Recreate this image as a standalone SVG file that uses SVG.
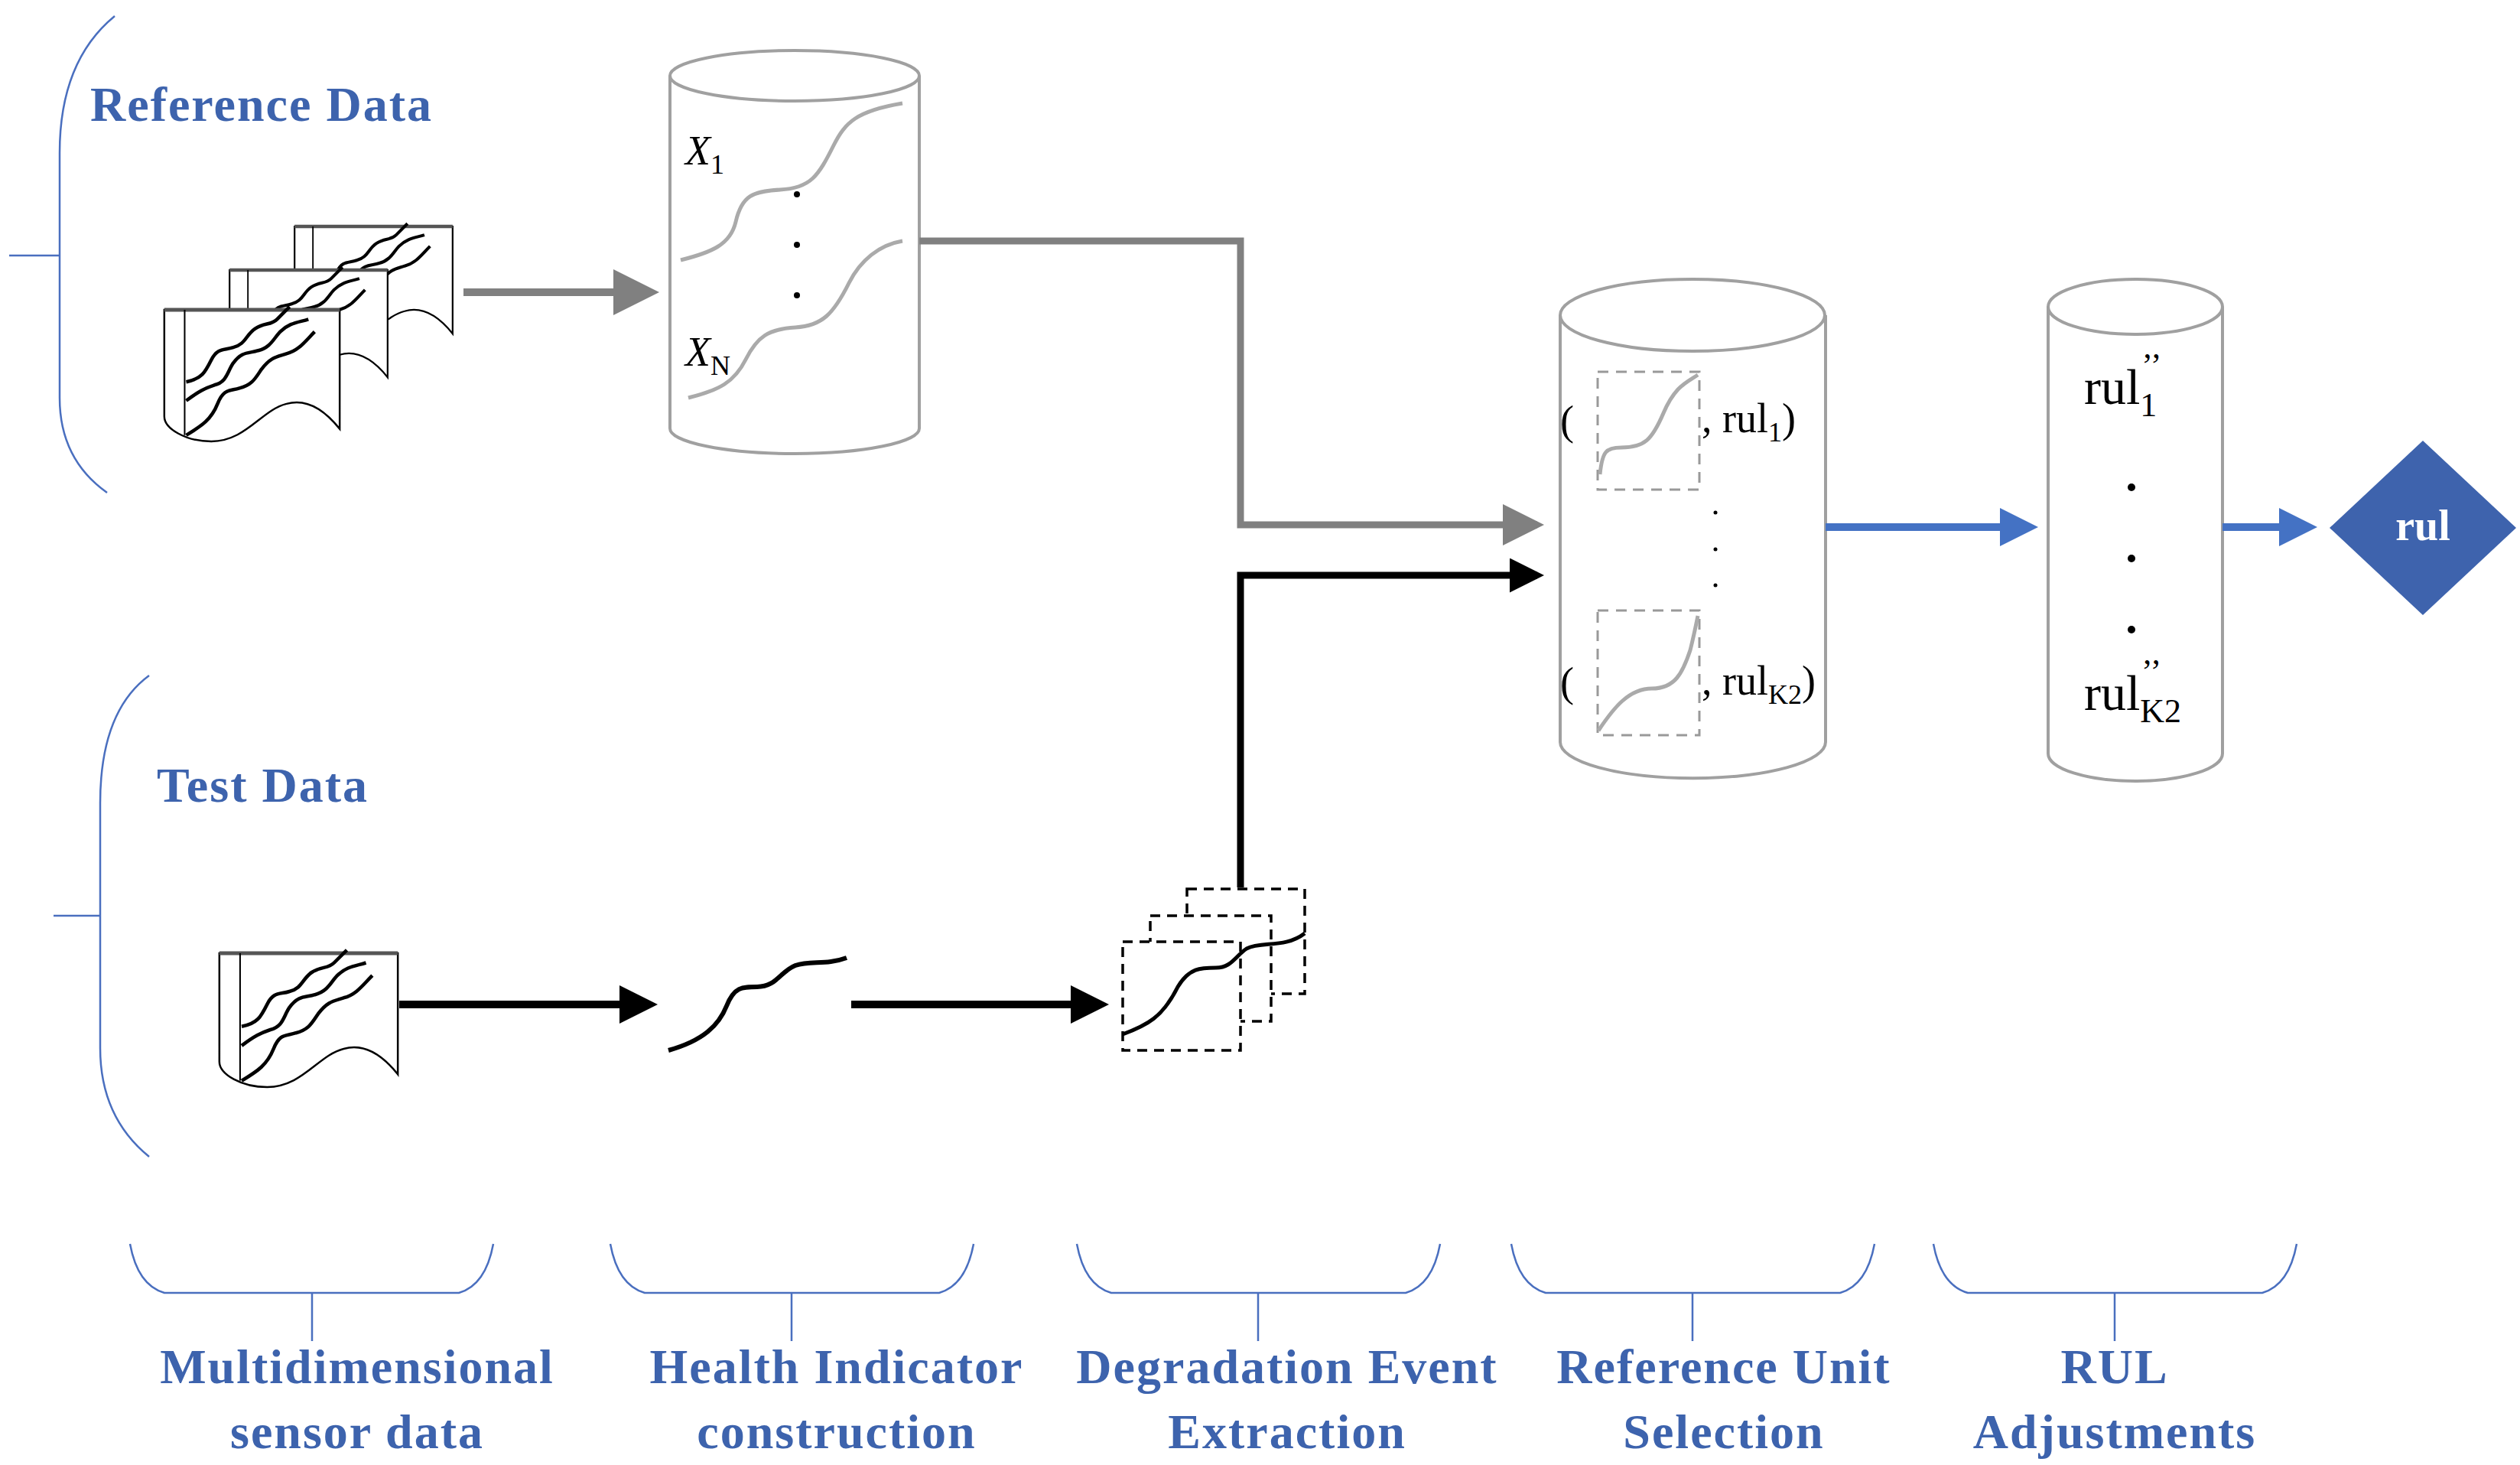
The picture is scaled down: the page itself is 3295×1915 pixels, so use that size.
<svg xmlns="http://www.w3.org/2000/svg" width="3295" height="1915" viewBox="0 0 3295 1915">
<style>
.lbl{font-family:"Liberation Serif",serif;font-weight:bold;fill:#3d63ad;font-size:64px;letter-spacing:2px;text-anchor:middle}
.brace{fill:none;stroke:#4a6fbf;stroke-width:2.5}
.cyl{fill:#fff;stroke:#a0a0a0;stroke-width:4}
.math{font-family:"Liberation Serif",serif;fill:#000}
.gcurve{fill:none;stroke:#aaa;stroke-width:5}
.dash{fill:none;stroke:#999;stroke-width:3;stroke-dasharray:14 10}
.bdash{fill:#fff;stroke:#000;stroke-width:3.5;stroke-dasharray:13 9}
</style>
<defs>
<marker id="ag" markerWidth="6" markerHeight="6" refX="5" refY="3" orient="auto" markerUnits="strokeWidth"><path d="M0,0 L6,3 L0,6 Z" fill="#808080"/></marker>
<marker id="ak" markerWidth="5" markerHeight="5" refX="4" refY="2.5" orient="auto" markerUnits="strokeWidth"><path d="M0,0 L5,2.5 L0,5 Z" fill="#000"/></marker>
<marker id="ab" markerWidth="5" markerHeight="5" refX="4" refY="2.5" orient="auto" markerUnits="strokeWidth"><path d="M0,0 L5,2.5 L0,5 Z" fill="#4472c4"/></marker>
<symbol id="doc" viewBox="0 0 112 84" overflow="visible">
<path d="M0,0 H112 V76 C104,66 92,56 78,60 C62,64 52,84 30,84 C14,84 0,76 0,68 Z" fill="#fff" stroke="#000" stroke-width="1.2"/>
<path d="M0,0 H112" stroke="#555" stroke-width="2.5"/>
<line x1="13" y1="0" x2="13" y2="80" stroke="#000" stroke-width="1"/>
<path d="M14,46 C24,44 26,40 30,32 C34,24 38,26 44,24 C52,22 52,16 58,12 C64,8 68,10 72,6 C76,2 78,0 80,-2" fill="none" stroke="#000" stroke-width="2.2"/>
<path d="M14,58 C22,52 26,50 32,48 C40,46 40,40 44,34 C50,26 54,28 60,26 C68,24 70,18 74,14 C80,8 86,8 92,6" fill="none" stroke="#000" stroke-width="2.2"/>
<path d="M14,80 C24,74 30,70 34,60 C38,50 42,52 48,50 C56,48 58,44 62,38 C68,30 72,30 78,28 C86,26 90,20 96,14" fill="none" stroke="#000" stroke-width="2.2"/>
</symbol>
</defs>

<g id="ref-brace"><path class="brace" d="M150,21 Q78,80 78,200 V520 Q78,600 140,644 M12,334 H78"/></g>
<g id="ref-label"><text x="118" y="158" class="lbl" style="text-anchor:start">Reference Data</text></g>
<g id="test-brace"><path class="brace" d="M195,883 Q131,930 131,1050 V1370 Q131,1460 195,1512 M70,1197 H131"/></g>
<g id="test-label"><text x="205" y="1048" class="lbl" style="text-anchor:start">Test Data</text></g>

<g id="ref-docs">
<use href="#doc" x="370" y="296" width="237" height="155"/>
<use href="#doc" x="285" y="353" width="237" height="155"/>
<use href="#doc" x="211" y="405" width="237" height="172"/>
</g>

<g id="cyl1">
<path class="cyl" d="M876,99 V560 A163,33 0 0 0 1202,560 V99"/>
<ellipse class="cyl" cx="1039" cy="99" rx="163" ry="33"/>
<path class="gcurve" d="M890,340 C930,330 955,320 962,290 C970,255 985,250 1020,248 C1060,246 1070,230 1090,190 C1105,160 1120,145 1180,135"/>
<path class="gcurve" d="M900,520 C940,510 960,500 975,470 C990,440 1005,430 1040,428 C1075,426 1090,410 1110,370 C1125,340 1150,320 1180,315"/>
<text x="896" y="215" class="math" font-size="54" font-style="italic">X<tspan font-size="36" font-style="normal" dy="12">1</tspan></text>
<text x="896" y="478" class="math" font-size="54" font-style="italic">X<tspan font-size="36" font-style="normal" dy="12">N</tspan></text>
<circle cx="1042" cy="254" r="4"/><circle cx="1042" cy="320" r="4"/><circle cx="1042" cy="386" r="4"/>
</g>

<g id="cyl2">
<path class="cyl" d="M2040,412 V970 A173,47 0 0 0 2387,970 V412"/>
<ellipse class="cyl" cx="2213" cy="412" rx="173" ry="47"/>
<rect class="dash" x="2089" y="486" width="133" height="154"/>
<path class="gcurve" d="M2092,620 C2095,590 2100,585 2120,585 C2150,585 2160,575 2175,540 C2190,505 2205,500 2220,490"/>
<rect class="dash" x="2089" y="798" width="133" height="163"/>
<path class="gcurve" d="M2090,955 C2110,925 2130,900 2160,900 C2190,900 2200,880 2210,850 C2215,830 2218,815 2220,805"/>
<text x="2040" y="568" class="math" font-size="54">(</text>
<text x="2225" y="565" class="math" font-size="54">, rul<tspan font-size="36" dy="12">1</tspan><tspan dy="-12">)</tspan></text>
<text x="2040" y="910" class="math" font-size="54">(</text>
<text x="2225" y="908" class="math" font-size="54">, rul<tspan font-size="36" dy="12">K2</tspan><tspan dy="-12">)</tspan></text>
<circle cx="2243" cy="670" r="2.5"/><circle cx="2243" cy="718" r="2.5"/><circle cx="2243" cy="765" r="2.5"/>
</g>

<g id="cyl3">
<path class="cyl" d="M2678,401 V985 A114,36 0 0 0 2906,985 V401"/>
<ellipse class="cyl" cx="2792" cy="401" rx="114" ry="36"/>
<text x="2725" y="528" class="math" font-size="66">rul<tspan font-size="44" dy="16">1</tspan><tspan font-size="44" dx="-20" dy="-52">’’</tspan></text>
<circle cx="2787" cy="637" r="5"/><circle cx="2787" cy="730" r="5"/><circle cx="2787" cy="823" r="5"/>
<text x="2725" y="928" class="math" font-size="66">rul<tspan font-size="44" dy="16">K2</tspan><tspan font-size="44" dx="-52" dy="-52">’’</tspan></text>
</g>

<g id="rul-diamond">
<path d="M3168,576 L3290,690 L3168,804 L3046,690 Z" fill="#3e63ad"/>
<text x="3168" y="706" font-family="Liberation Serif,serif" font-weight="bold" font-size="56" fill="#fff" text-anchor="middle">rul</text>
</g>

<g id="test-doc"><use href="#doc" x="285" y="1246" width="237" height="175"/></g>

<g id="hi-curve"><path d="M874,1373 C920,1360 940,1340 950,1315 C960,1290 970,1290 990,1290 C1015,1290 1020,1270 1040,1262 C1060,1255 1080,1262 1107,1252" fill="none" stroke="#000" stroke-width="6"/></g>

<g id="events">
<rect class="bdash" x="1552" y="1162" width="154" height="137"/>
<rect class="bdash" x="1504" y="1197" width="158" height="138"/>
<rect class="bdash" x="1468" y="1231" width="154" height="142"/>
<path d="M1468,1352 C1500,1340 1520,1330 1540,1290 C1555,1265 1570,1265 1590,1265 C1610,1265 1615,1250 1630,1240 C1650,1230 1680,1240 1706,1220" fill="none" stroke="#000" stroke-width="5"/>
</g>

<g id="connectors">
<line x1="606" y1="382" x2="852" y2="382" stroke="#808080" stroke-width="10" marker-end="url(#ag)"/>
<polyline points="1202,315 1622,315 1622,686 2010,686" fill="none" stroke="#808080" stroke-width="9" marker-end="url(#ag)"/>
<polyline points="1622,1160 1622,752 2010,752" fill="none" stroke="#000" stroke-width="9" marker-end="url(#ak)"/>
<line x1="522" y1="1313" x2="850" y2="1313" stroke="#000" stroke-width="10" marker-end="url(#ak)"/>
<line x1="1113" y1="1313" x2="1440" y2="1313" stroke="#000" stroke-width="10" marker-end="url(#ak)"/>
<line x1="2387" y1="689" x2="2655" y2="689" stroke="#4472c4" stroke-width="10" marker-end="url(#ab)"/>
<line x1="2906" y1="689" x2="3020" y2="689" stroke="#4472c4" stroke-width="10" marker-end="url(#ab)"/>
</g>

<g id="stages">
<path class="brace" d="M170,1626 Q180,1680 215,1690 H600 Q635,1680 645,1626 M408,1690 V1753"/>
<path class="brace" d="M798,1626 Q808,1680 843,1690 H1228 Q1263,1680 1273,1626 M1035,1690 V1753"/>
<path class="brace" d="M1408,1626 Q1418,1680 1453,1690 H1838 Q1873,1680 1883,1626 M1645,1690 V1753"/>
<path class="brace" d="M1976,1626 Q1986,1680 2021,1690 H2406 Q2441,1680 2451,1626 M2213,1690 V1753"/>
<path class="brace" d="M2528,1626 Q2538,1680 2573,1690 H2958 Q2993,1680 3003,1626 M2765,1690 V1753"/>
<text class="lbl" x="467" y="1808">Multidimensional</text><text class="lbl" x="467" y="1893">sensor data</text>
<text class="lbl" x="1094" y="1808">Health Indicator</text><text class="lbl" x="1094" y="1893">construction</text>
<text class="lbl" x="1683" y="1808">Degradation Event</text><text class="lbl" x="1683" y="1893">Extraction</text>
<text class="lbl" x="2254" y="1808">Reference Unit</text><text class="lbl" x="2254" y="1893">Selection</text>
<text class="lbl" x="2765" y="1808">RUL</text><text class="lbl" x="2765" y="1893">Adjustments</text>
</g>
</svg>
